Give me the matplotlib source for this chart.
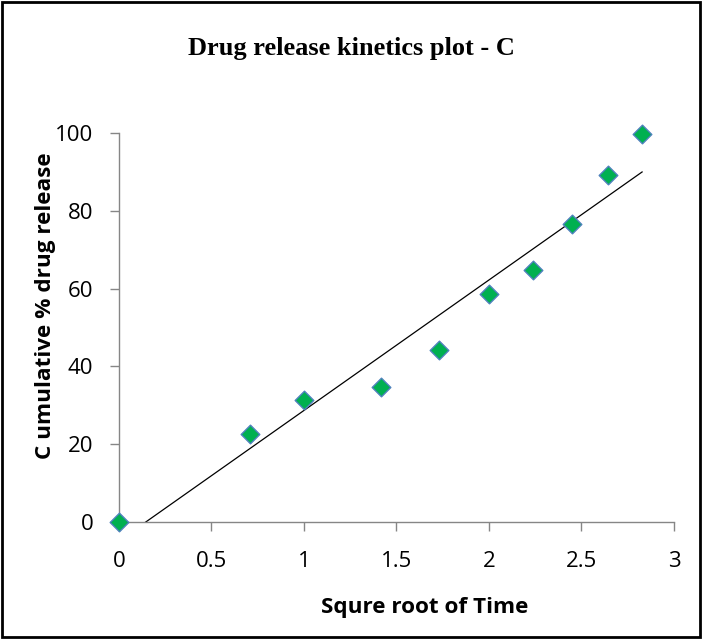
import numpy as np
import matplotlib.pyplot as plt
from matplotlib.patches import Rectangle

# sqrt(time) and cumulative % drug release
sqrt_time = [0, 0.707, 1.0, 1.414, 1.732, 2.0, 2.236, 2.449, 2.646, 2.828]
release = [0, 22.6, 31.3, 34.6, 44.3, 58.6, 64.8, 76.7, 89.2, 99.8]

x_ticks = [0, 0.5, 1, 1.5, 2, 2.5, 3]
x_ticklabels = ['0', '0.5', '1', '1.5', '2', '2.5', '3']
y_ticks = [0, 20, 40, 60, 80, 100]

fig = plt.figure(figsize=(7.02, 6.39), dpi=100)
ax = fig.add_axes([0.1695, 0.183, 0.7905, 0.609])

# linear trendline
slope, intercept = np.polyfit(sqrt_time, release, 1)
xs = np.array([0, max(sqrt_time)])
ax.plot(xs, slope * xs + intercept, color='black', linewidth=0.9)

ax.scatter(sqrt_time, release, marker='D', s=90, color='#00b050',
           edgecolors='#4f81bd', linewidths=1.0, zorder=3, clip_on=False)

ax.set_xlim(0, 3)
ax.set_ylim(0, 100)
ax.set_xticks(x_ticks)
ax.set_xticklabels(x_ticklabels)
ax.set_yticks(y_ticks)

for s in ['top', 'right']:
    ax.spines[s].set_visible(False)
for s in ['left', 'bottom']:
    ax.spines[s].set_color('#868686')
    ax.spines[s].set_linewidth(1.0)
ax.tick_params(direction='out', length=6.5, width=1.0, color='#868686',
               labelsize=16)
ax.tick_params(axis='y', pad=12)
ax.tick_params(axis='x', pad=14.5)
for lab in ax.get_xticklabels() + ax.get_yticklabels():
    lab.set_fontfamily('Open Sans')

ax.set_xlabel('Squre root of Time', fontsize=16.2, fontweight='bold',
              family='Open Sans', va='baseline')
ax.xaxis.set_label_coords(0.550, -0.234)
ax.set_ylabel('C umulative % drug release', fontsize=16.2, fontweight='bold',
              family='Open Sans', va='center')
ax.yaxis.set_label_coords(-0.133, 0.557)

fig.text(0.5007, 0.914, 'Drug release kinetics plot - C', ha='center', va='baseline',
         fontsize=19, fontweight='bold', family='Liberation Serif')

# outer frame
fig.patches.append(Rectangle((0.003, 0.003), 0.994, 0.994, transform=fig.transFigure,
                             fill=False, edgecolor='black', linewidth=2))

fig.savefig('out.png', dpi=100)
